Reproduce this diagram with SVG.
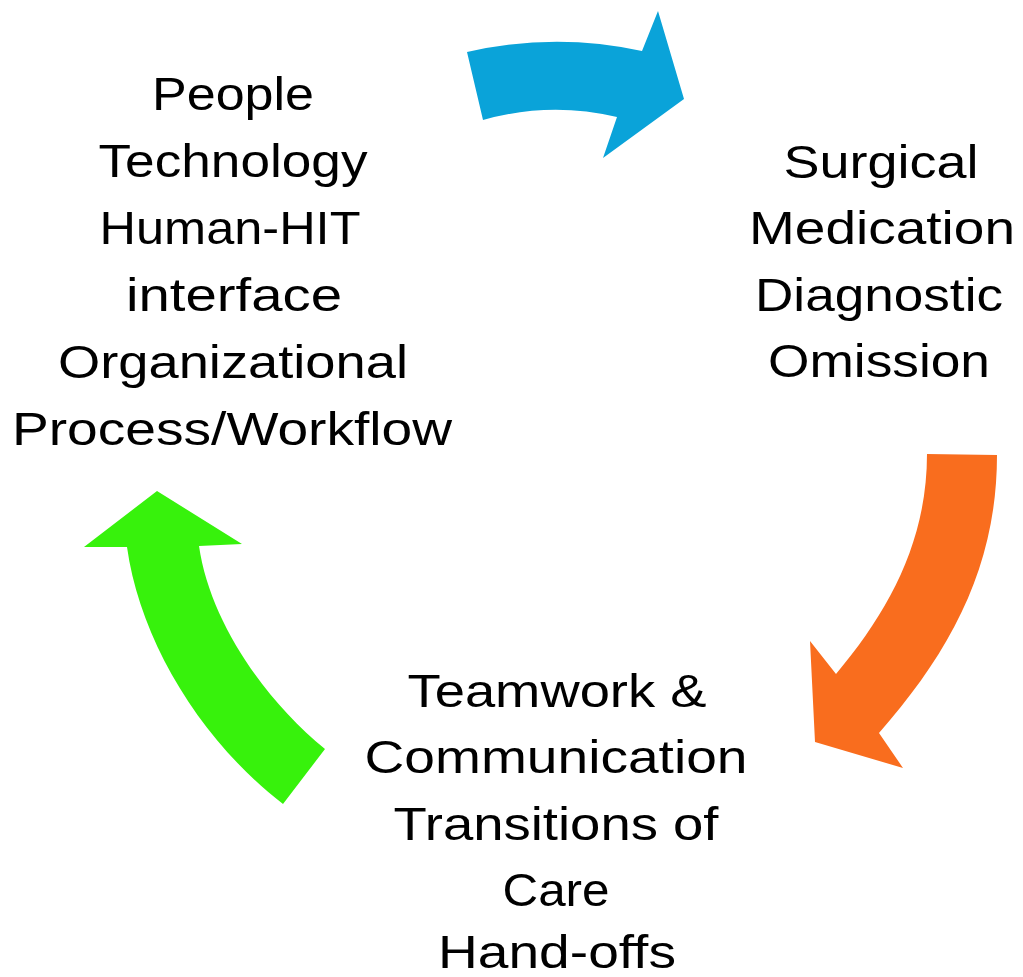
<svg xmlns="http://www.w3.org/2000/svg" width="1023" height="977" viewBox="0 0 1023 977">
  <style>
    .label { font-family: "Liberation Sans", Arial, sans-serif; font-size: 47px; fill: #000; text-anchor: middle; }
    .arrow { stroke: none; }
    .blue { fill: #0aa3d9; }
    .orange { fill: #f96d1e; }
    .green { fill: #37f20c; }
  </style>
  <rect width="1023" height="977" fill="#ffffff"/>

  <!-- curved block arrows linking the three groups -->
  <g id="connectors">
    <path class="arrow blue" d="M467,52 Q555,32 642,51 L658,11 L684,99 L603,158 L617,117 Q550,101 483,120 Z"/>
    <path class="arrow orange" d="M927,454 L997,455 C997,565 952,650 879,733 L903,768 L815,742 L810,641 L836,674 C890,610 927,540 927,454 Z"/>
    <path class="arrow green" d="M157,491 L242,544 L199,546 C210,622 265,700 325,749 L283,804 C200,740 140,640 127,547 L84,547 Z"/>
  </g>

  <g id="node-factors">
    <text class="label" x="233" y="110" textLength="162" lengthAdjust="spacingAndGlyphs">People</text>
    <text class="label" x="233" y="177" textLength="269" lengthAdjust="spacingAndGlyphs">Technology</text>
    <text class="label" x="230" y="244" textLength="261" lengthAdjust="spacingAndGlyphs">Human-HIT</text>
    <text class="label" x="234" y="311" textLength="216" lengthAdjust="spacingAndGlyphs">interface</text>
    <text class="label" x="233" y="378" textLength="350" lengthAdjust="spacingAndGlyphs">Organizational</text>
    <text class="label" x="232" y="445" textLength="440" lengthAdjust="spacingAndGlyphs">Process/Workflow</text>
  </g>

  <g id="node-error-types">
    <text class="label" x="881" y="178" textLength="195" lengthAdjust="spacingAndGlyphs">Surgical</text>
    <text class="label" x="882" y="244" textLength="266" lengthAdjust="spacingAndGlyphs">Medication</text>
    <text class="label" x="879" y="311" textLength="248" lengthAdjust="spacingAndGlyphs">Diagnostic</text>
    <text class="label" x="879" y="377" textLength="222" lengthAdjust="spacingAndGlyphs">Omission</text>
  </g>

  <g id="node-teamwork">
    <text class="label" x="557" y="707" textLength="299" lengthAdjust="spacingAndGlyphs">Teamwork &amp;</text>
    <text class="label" x="556" y="773" textLength="383" lengthAdjust="spacingAndGlyphs">Communication</text>
    <text class="label" x="556" y="840" textLength="325" lengthAdjust="spacingAndGlyphs">Transitions of</text>
    <text class="label" x="556" y="906" textLength="107" lengthAdjust="spacingAndGlyphs">Care</text>
    <text class="label" x="557" y="968" textLength="238" lengthAdjust="spacingAndGlyphs">Hand-offs</text>
  </g>
</svg>
